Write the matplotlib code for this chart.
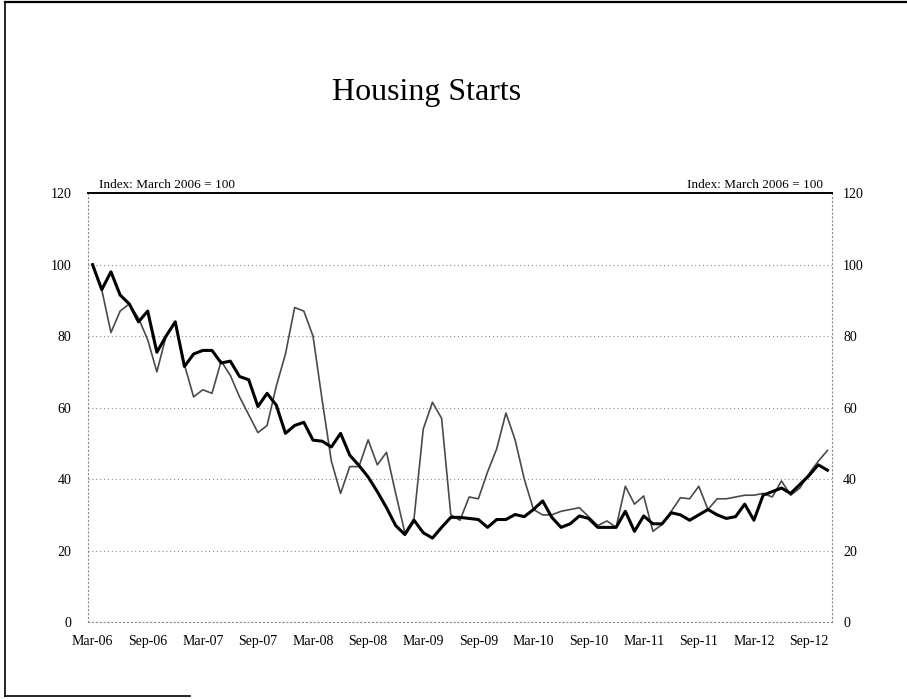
import matplotlib
matplotlib.use("Agg")
import matplotlib.pyplot as plt
from matplotlib.lines import Line2D

plt.rcParams['font.family'] = ['Liberation Serif', 'DejaVu Serif']

# monthly index, March 2006 = 100 (Mar-06 .. Nov-12)
tick_labels = ['Mar-06', 'Sep-06', 'Mar-07', 'Sep-07', 'Mar-08', 'Sep-08', 'Mar-09',
               'Sep-09', 'Mar-10', 'Sep-10', 'Mar-11', 'Sep-11', 'Mar-12', 'Sep-12']

# thick black series
series_a = [100, 93, 98, 91.5, 89, 84, 87, 75.5, 80, 84,
            71.5, 75, 76, 76, 72.5, 73, 68.7, 67.8, 60.3, 64,
            60.7, 52.8, 55, 55.9, 50.9, 50.6, 49, 52.8, 46.7, 43.8,
            40.6, 36.5, 32, 27, 24.5, 28.5, 25, 23.5, 26.5, 29.3,
            29.3, 29, 28.7, 26.5, 28.7, 28.7, 30.1, 29.5, 31.5, 33.9,
            29.3, 26.5, 27.5, 29.7, 29, 26.5, 26.5, 26.5, 31, 25.4,
            29.7, 27.5, 27.5, 30.6, 30, 28.5, 30, 31.5, 30, 29,
            29.5, 33, 28.5, 35.5, 36.5, 37.5, 36, 38.5, 41, 44,
            42.5]

# thin grey series
series_b = [100, 93, 81, 87, 89, 85, 79, 70, 80, 84,
            72, 63, 65, 64, 73, 69, 63, 58, 53, 55,
            66, 75, 88, 87, 80, 62, 45, 36, 43.5, 43.5,
            51, 44, 47.5, 36, 25, 29, 54, 61.5, 57, 30,
            28.5, 35, 34.5, 42, 48.5, 58.5, 51, 40, 31.5, 30,
            30, 31, 31.5, 32, 29.5, 27, 28.3, 26.5, 38, 33,
            35.3, 25.4, 27.3, 31, 34.8, 34.5, 38, 31.5, 34.5, 34.5,
            35, 35.5, 35.5, 36, 35, 39.5, 35.5, 37.5, 41.5, 45,
            48]

yticks = [0, 20, 40, 60, 80, 100, 120]

fig = plt.figure(figsize=(9.07, 6.99), dpi=100)
ax = fig.add_axes([0.097, 0.110, 0.8203, 0.6137])

x = range(len(series_a))
ax.plot(x, series_b, color='#4a4a4a', lw=1.2)
ax.plot(x, series_a, color='black', lw=2.2)

ax.set_xlim(-0.5, len(series_a) - 0.5)
ax.set_ylim(0, 120)
ax.set_xticks(range(0, 6 * len(tick_labels), 6))
ax.set_xticklabels(tick_labels)
ax.set_yticks(yticks)
ax.tick_params(axis='x', length=0, pad=9, labelsize=10)
ax.tick_params(axis='y', length=0, pad=12, labelsize=10)

ax.grid(axis='y', color='#8a8a8a', lw=0.8, linestyle=(0, (1, 2.5)))
ax.set_axisbelow(True)

for side in ['left', 'right', 'bottom']:
    ax.spines[side].set_color('#8a8a8a')
    ax.spines[side].set_linestyle((0, (1, 2.5)))
    ax.spines[side].set_linewidth(0.8)
ax.spines['top'].set_color('black')
ax.spines['top'].set_linewidth(1.4)

ax2 = ax.twinx()
ax2.set_ylim(0, 120)
ax2.set_yticks(yticks)
ax2.tick_params(axis='y', length=0, pad=8, labelsize=10)
for s in ax2.spines.values():
    s.set_visible(False)

ax.text(0.015, 1.006, 'Index: March 2006 = 100', transform=ax.transAxes,
        fontsize=9.5, ha='left', va='bottom')
ax.text(0.988, 1.006, 'Index: March 2006 = 100', transform=ax.transAxes,
        fontsize=9.5, ha='right', va='bottom')

fig.text(0.47, 0.868, 'Housing Starts', fontsize=23, ha='center', va='center')

# page frame from the scanned slide
fig.add_artist(Line2D([0.0055, 0.0055], [0.004, 0.997], color='black', lw=1.2))
fig.add_artist(Line2D([0.0055, 1.0], [0.997, 0.997], color='black', lw=1.6))
fig.add_artist(Line2D([0.0055, 0.21], [0.004, 0.004], color='black', lw=1.2))

fig.savefig('out.png', dpi=100)
